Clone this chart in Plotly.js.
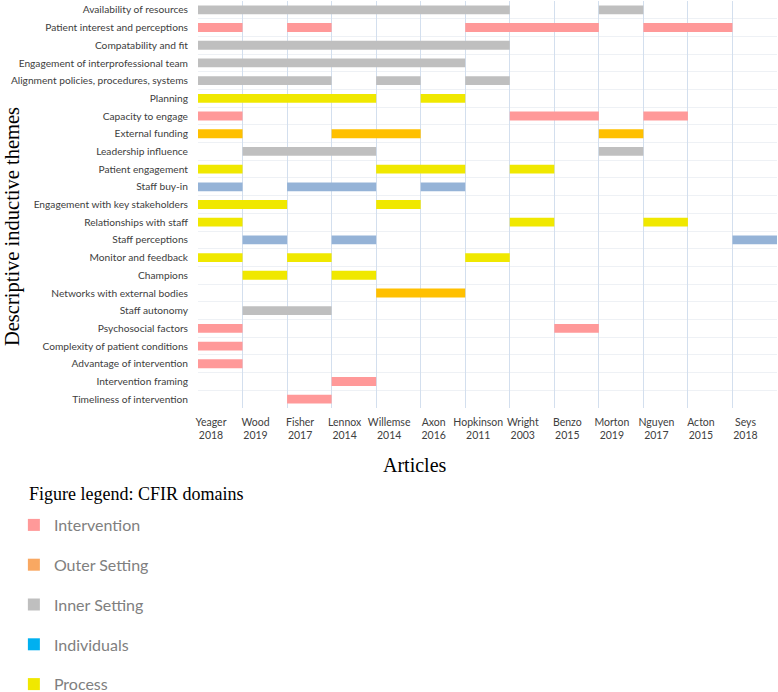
<!DOCTYPE html>
<html>
<head>
<meta charset="utf-8">
<script src="https://cdn.plot.ly/plotly-3.0.1.min.js"></script>
<style>html,body{margin:0;padding:0;background:#fff;}#chart{width:778px;height:692px;}</style>
</head>
<body>
<div id="chart"></div>
<script>
// Themes (rows, top to bottom)
const themes = [
  "Availability of resources",
  "Patient interest and perceptions",
  "Compatability and fit",
  "Engagement of interprofessional team",
  "Alignment policies, procedures, systems",
  "Planning",
  "Capacity to engage",
  "External funding",
  "Leadership influence",
  "Patient engagement",
  "Staff buy-in",
  "Engagement with key stakeholders",
  "Relationships with staff",
  "Staff perceptions",
  "Monitor and feedback",
  "Champions",
  "Networks with external bodies",
  "Staff autonomy",
  "Psychosocial factors",
  "Complexity of patient conditions",
  "Advantage of intervention",
  "Intervention framing",
  "Timeliness of intervention"
];
// CFIR domain of each theme
const themeDomain = [
  "Inner Setting","Intervention","Inner Setting","Inner Setting","Inner Setting",
  "Process","Intervention","Outer Setting","Inner Setting","Process",
  "Individuals","Process","Process","Individuals","Process",
  "Process","Outer Setting","Inner Setting","Intervention","Intervention",
  "Intervention","Intervention","Intervention"
];
// Articles (columns)
const articles = ["Yeager","Wood","Fisher","Lennox","Willemse","Axon","Hopkinson","Wright","Benzo","Morton","Nguyen","Acton","Seys"];
const years    = ["2018","2019","2017","2014","2014","2016","2011","2003","2015","2019","2017","2015","2018"];

// Segments: theme index, first article index, number of consecutive articles
const segTheme = [0,0, 1,1,1,1, 2, 3, 4,4,4, 5,5, 6,6,6, 7,7,7, 8,8, 9,9,9, 10,10,10, 11,11, 12,12,12, 13,13,13, 14,14,14, 15,15, 16, 17, 18,18, 19, 20, 21, 22];
const segStart = [0,9, 0,2,6,10, 0, 0, 0,4,6, 0,5, 0,7,10, 0,3,9, 1,9, 0,4,7, 0,2,5, 0,4, 0,7,10, 1,3,12, 0,2,6, 1,3, 4, 1, 0,8, 0, 0, 3, 2];
const segSpan  = [7,1, 1,1,3,2, 7, 6, 3,1,1, 4,1, 1,2,1, 1,2,1, 3,1, 1,2,1, 1,2,1, 2,1, 1,1,1, 1,1,1, 1,1,1, 1,1, 2, 2, 1,1, 1, 1, 1, 1];

// Domains: bar colours in the grid and colours shown in the legend
const domains      = ["Intervention","Outer Setting","Inner Setting","Individuals","Process"];
const barColors    = ["#FF9999","#FFC000","#BFBFBF","#95B3D7","#F0E800"];
const legendColors = ["#FF9999","#F9A862","#BFBFBF","#00B0F0","#F0E800"];

const labelFont = "Lato, 'Open Sans', sans-serif";
const serif = "'Liberation Serif', 'DejaVu Serif', serif";

const traces = [];
domains.forEach((d, di) => {
  const x = [], base = [], y = [];
  segTheme.forEach((t, k) => {
    if (themeDomain[t] === d) { x.push(segSpan[k]); base.push(segStart[k]); y.push(t); }
  });
  traces.push({
    type: "bar", orientation: "h", x: x, base: base, y: y, width: 0.5,
    marker: {color: barColors[di], line: {width: 0}},
    showlegend: false, hoverinfo: "skip", name: d, legendgroup: "bars"
  });
});
domains.forEach((d, di) => {
  traces.push({
    type: "bar", orientation: "h", x: [null], y: [null], name: d,
    legendgroup: "lg" + di, marker: {color: legendColors[di]}, showlegend: true
  });
});

const xTickVals = [], xTickText = [];
for (let i = 0; i <= articles.length; i++) {
  xTickVals.push(i);
  xTickText.push(i < articles.length ? articles[i] + "<br>" + years[i] : "");
}
const yTickVals = themes.map((_, i) => i);
const yMinor = [];
for (let i = 0; i <= themes.length; i++) yMinor.push(i - 0.5);

const layout = {
  width: 778, height: 692,
  margin: {l: 198, r: 1, t: 1, b: 284, autoexpand: false},
  paper_bgcolor: "#fff", plot_bgcolor: "#fff",
  barmode: "overlay",
  showlegend: true,
  xaxis: {
    range: [0, articles.length], tickmode: "array", tickvals: xTickVals, ticktext: xTickText,
    ticklabelshift: 13, ticklabelstandoff: 6, showgrid: true, gridcolor: "#D3DFEE", gridwidth: 1,
    zeroline: false, showline: false, ticks: "", fixedrange: true, automargin: false,
    tickfont: {family: labelFont, size: 10.5, color: "#404040"}
  },
  yaxis: {
    range: [themes.length - 0.5, -0.5], tickmode: "array", tickvals: yTickVals, ticktext: themes,
    showgrid: false, zeroline: false, showline: false, ticks: "", ticklabelstandoff: 9,
    minor: {tickmode: "array", tickvals: yMinor, showgrid: true, gridcolor: "#EEF1F5", gridwidth: 1, ticks: ""},
    tickfont: {family: labelFont, size: 10.2, color: "#404040"}, fixedrange: true, automargin: false
  },
  legend: {
    x: -0.318, xanchor: "left", y: -0.2457, yanchor: "top",
    orientation: "v", traceorder: "grouped", tracegroupgap: 16,
    font: {family: labelFont, size: 16, color: "#808080"},
    bgcolor: "rgba(0,0,0,0)", borderwidth: 0
  },
  annotations: [
    {text: "Descriptive inductive themes", xref: "paper", yref: "paper",
     x: -0.3212, y: 0.4447, xanchor: "center", yanchor: "middle", textangle: -90, showarrow: false,
     font: {family: serif, size: 20.5, color: "#000"}},
    {text: "Articles", xref: "paper", yref: "paper",
     x: 0.3748, y: -0.14, xanchor: "center", yanchor: "middle", showarrow: false,
     font: {family: serif, size: 20, color: "#000"}},
    {text: "Figure legend: CFIR domains", xref: "paper", yref: "paper",
     x: -0.295, y: -0.2113, xanchor: "left", yanchor: "middle", showarrow: false,
     font: {family: serif, size: 18, color: "#000"}}
  ]
};

Plotly.newPlot("chart", traces, layout, {displayModeBar: false, staticPlot: true});
</script>
</body>
</html>
